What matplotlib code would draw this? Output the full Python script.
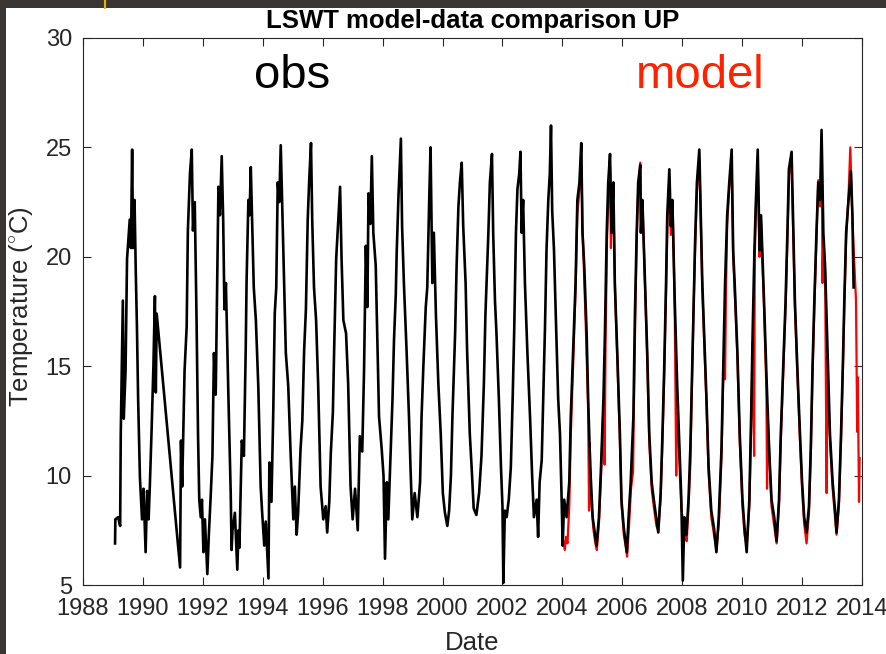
import matplotlib.pyplot as plt
from matplotlib.patches import Rectangle
from matplotlib.lines import Line2D

obs_date = [
    1989.07, 1989.08, 1989.17, 1989.24, 1989.26, 1989.33, 1989.36, 1989.42, 1989.47, 1989.56, 1989.60, 1989.64,
    1989.67, 1989.72, 1989.76, 1989.80, 1989.84, 1989.90, 1989.97,
    1990.02, 1990.09, 1990.14, 1990.19, 1990.23, 1990.29, 1990.35, 1990.40, 1990.43, 1990.46,
    1991.24, 1991.27, 1991.31, 1991.39, 1991.46, 1991.50, 1991.57, 1991.63, 1991.67, 1991.73, 1991.79, 1991.84,
    1991.88, 1991.93, 1991.97,
    1992.02, 1992.07, 1992.15, 1992.20, 1992.26, 1992.32, 1992.37, 1992.43, 1992.48, 1992.52, 1992.57, 1992.63,
    1992.68, 1992.72, 1992.77, 1992.85, 1992.93, 1992.96, 1992.99,
    1993.07, 1993.15, 1993.19, 1993.22, 1993.30, 1993.37, 1993.43, 1993.46, 1993.52, 1993.56, 1993.60, 1993.65,
    1993.70, 1993.77, 1993.85, 1993.93, 1993.98,
    1994.05, 1994.10, 1994.19, 1994.22, 1994.29, 1994.35, 1994.40, 1994.45, 1994.50, 1994.55, 1994.60, 1994.66,
    1994.71, 1994.77, 1994.85, 1994.93,
    1995.02, 1995.07, 1995.13, 1995.18, 1995.26, 1995.32, 1995.38, 1995.44, 1995.50, 1995.55, 1995.61, 1995.65,
    1995.71, 1995.78, 1995.85, 1995.93,
    1996.02, 1996.10, 1996.15, 1996.22, 1996.27, 1996.34, 1996.38, 1996.45, 1996.52, 1996.58, 1996.63, 1996.69,
    1996.78, 1996.85, 1996.93,
    1997.00, 1997.08, 1997.17, 1997.24, 1997.32, 1997.38, 1997.44, 1997.49, 1997.53, 1997.59, 1997.64, 1997.69,
    1997.77, 1997.82, 1997.88, 1997.97,
    1998.03, 1998.08, 1998.14, 1998.19, 1998.25, 1998.33, 1998.38, 1998.44, 1998.47, 1998.53, 1998.61, 1998.65,
    1998.71, 1998.80, 1998.88, 1998.93, 1998.99,
    1999.07, 1999.16, 1999.25, 1999.30, 1999.36, 1999.44, 1999.49, 1999.56, 1999.60, 1999.66, 1999.71, 1999.78,
    1999.86, 1999.94,
    2000.01, 2000.08, 2000.16, 2000.22, 2000.28, 2000.33, 2000.42, 2000.47, 2000.53, 2000.58, 2000.64, 2000.69,
    2000.77, 2000.82, 2000.91, 2000.97,
    2001.04, 2001.13, 2001.22, 2001.30, 2001.38, 2001.43, 2001.53, 2001.58, 2001.65, 2001.69, 2001.75, 2001.80,
    2001.88, 2001.95,
    2002.00, 2002.03, 2002.08, 2002.14, 2002.21, 2002.28, 2002.34, 2002.39, 2002.45, 2002.50, 2002.56, 2002.60,
    2002.64, 2002.69, 2002.75, 2002.83, 2002.92, 2002.99,
    2003.05, 2003.14, 2003.19, 2003.24, 2003.31, 2003.36, 2003.42, 2003.47, 2003.53, 2003.58, 2003.62, 2003.66,
    2003.72, 2003.78, 2003.86, 2003.92, 2003.97,
    2004.01, 2004.06, 2004.14, 2004.23, 2004.28, 2004.36, 2004.44, 2004.50, 2004.57, 2004.63, 2004.67, 2004.73,
    2004.81, 2004.86, 2004.93,
    2005.01, 2005.09, 2005.14, 2005.22, 2005.29, 2005.37, 2005.42, 2005.48, 2005.53, 2005.59, 2005.64, 2005.70,
    2005.75, 2005.83, 2005.92, 2005.97,
    2006.05, 2006.15, 2006.21, 2006.28, 2006.37, 2006.42, 2006.48, 2006.53, 2006.60, 2006.62, 2006.67, 2006.76,
    2006.83, 2006.90, 2006.98,
    2007.05, 2007.14, 2007.20, 2007.28, 2007.34, 2007.40, 2007.46, 2007.50, 2007.57, 2007.62, 2007.67, 2007.75,
    2007.83, 2007.91, 2007.97,
    2008.02, 2008.07, 2008.14, 2008.21, 2008.27, 2008.32, 2008.38, 2008.43, 2008.49, 2008.57, 2008.62, 2008.67,
    2008.73, 2008.81, 2008.88, 2008.97,
    2009.06, 2009.14, 2009.22, 2009.31, 2009.37, 2009.43, 2009.50, 2009.57, 2009.65, 2009.70, 2009.75, 2009.84,
    2009.92,
    2010.01, 2010.08, 2010.15, 2010.24, 2010.30, 2010.35, 2010.41, 2010.46, 2010.52, 2010.58, 2010.63, 2010.73,
    2010.82, 2010.90, 2010.98,
    2011.07, 2011.15, 2011.23, 2011.29, 2011.37, 2011.45, 2011.51, 2011.56, 2011.65, 2011.71, 2011.76, 2011.84,
    2011.93,
    2012.00, 2012.07, 2012.15, 2012.23, 2012.29, 2012.35, 2012.41, 2012.48, 2012.54, 2012.60, 2012.65, 2012.71,
    2012.77, 2012.85, 2012.93,
    2013.02, 2013.10, 2013.15, 2013.23, 2013.30, 2013.36, 2013.41, 2013.47, 2013.55, 2013.63, 2013.68, 2013.72,
]
obs_temp = [
    6.9, 8.0, 8.1, 7.7, 11.9, 18.0, 12.6, 14.8, 19.9, 21.7, 20.4, 24.9,
    20.4, 22.6, 19.4, 16.8, 13.5, 9.9, 8.0,
    9.4, 6.5, 9.3, 8.0, 9.5, 12.1, 15.0, 18.2, 13.8, 17.4,
    5.8, 11.6, 9.5, 14.8, 16.8, 21.2, 23.8, 24.9, 21.2, 22.5, 17.1, 11.8,
    8.9, 8.1, 8.9,
    6.5, 8.0, 5.5, 7.3, 9.0, 10.9, 15.6, 13.7, 18.9, 23.2, 21.9, 24.6,
    21.6, 17.6, 18.8, 13.8, 9.2, 6.6, 7.5,
    8.3, 5.7, 7.5, 6.7, 11.6, 10.9, 15.7, 18.9, 22.6, 21.9, 24.1, 21.3,
    18.6, 17.1, 14.1, 9.5, 8.3,
    6.8, 7.9, 5.3, 10.6, 8.8, 12.9, 17.4, 18.6, 23.4, 22.5, 25.1, 21.7,
    18.9, 15.6, 14.1, 11.0,
    8.0, 9.5, 7.3, 8.3, 11.2, 12.5, 15.7, 17.6, 21.7, 23.5, 25.2, 21.7,
    18.6, 17.1, 14.1, 9.5,
    8.0, 8.6, 7.4, 8.8, 11.0, 12.9, 15.6, 19.9, 21.7, 23.2, 19.9, 17.1,
    16.5, 14.2, 9.5,
    8.0, 9.4, 7.5, 11.8, 11.1, 14.8, 20.5, 17.7, 22.9, 21.5, 24.6, 21.1,
    19.6, 16.5, 12.7, 11.2,
    10.0, 6.2, 9.7, 8.0, 10.4, 13.5, 16.2, 18.3, 20.2, 22.8, 25.4, 21.4,
    18.8, 15.7, 12.7, 10.4, 8.0,
    9.2, 8.1, 9.7, 12.7, 15.0, 17.7, 18.6, 22.9, 25.0, 18.8, 21.1, 17.3,
    14.2, 11.9,
    9.2, 8.3, 7.7, 8.4, 10.0, 12.7, 16.5, 19.6, 22.3, 23.4, 24.3, 21.4,
    18.8, 15.7, 11.9, 10.4,
    8.5, 8.2, 9.2, 10.9, 14.2, 17.3, 21.1, 23.4, 24.7, 21.1, 18.0, 16.5,
    13.5, 10.4,
    8.6, 5.1, 8.4, 8.1, 8.9, 10.4, 13.5, 16.5, 21.1, 23.1, 23.8, 24.8,
    21.1, 22.6, 18.8, 15.7, 12.7, 10.0,
    8.1, 8.9, 7.2, 9.7, 10.7, 13.5, 16.8, 20.3, 22.6, 23.8, 26.0, 22.1,
    20.3, 17.3, 13.5, 11.9, 9.2,
    6.8, 8.9, 8.1, 9.7, 12.7, 15.7, 18.8, 22.6, 23.4, 25.2, 21.1, 19.6,
    16.5, 13.5, 10.4,
    8.1, 7.3, 6.8, 8.1, 10.4, 13.5, 16.5, 21.1, 23.4, 24.7, 21.1, 23.4,
    18.8, 15.7, 11.9, 8.9,
    7.6, 6.5, 8.1, 9.7, 12.7, 17.3, 21.1, 23.4, 24.2, 21.1, 22.6, 18.8,
    15.7, 11.9, 9.7,
    8.9, 8.0, 7.4, 9.2, 11.9, 15.0, 18.8, 21.9, 24.0, 21.4, 22.6, 18.0,
    14.2, 11.2, 8.9,
    5.2, 8.1, 7.3, 8.9, 11.2, 14.2, 18.0, 20.7, 23.4, 24.9, 21.9, 18.8,
    16.5, 13.5, 10.4, 8.4,
    7.6, 6.5, 8.1, 11.2, 15.0, 18.8, 21.9, 23.4, 24.9, 20.3, 18.8, 15.7,
    11.9,
    8.9, 7.6, 6.5, 8.9, 12.7, 16.5, 20.3, 22.6, 24.9, 20.3, 21.9, 18.0,
    14.2, 11.2, 8.9,
    8.1, 7.0, 8.9, 11.9, 15.0, 18.0, 21.1, 24.0, 24.8, 21.1, 18.0, 15.0,
    11.9,
    9.7, 8.1, 7.4, 8.6, 11.2, 15.0, 18.0, 21.1, 23.4, 22.6, 25.8, 21.1,
    19.5, 15.7, 11.9,
    9.7, 8.4, 7.4, 8.9, 11.9, 15.0, 18.0, 21.1, 22.6, 23.9, 21.9, 18.6,
]

# model run, 2004 onwards
model_date = [
    2004.03, 2004.08, 2004.12, 2004.17, 2004.23, 2004.28, 2004.36, 2004.44, 2004.50, 2004.57, 2004.63, 2004.67,
    2004.73, 2004.80, 2004.86, 2004.89, 2004.91, 2004.96,
    2005.03, 2005.10, 2005.15, 2005.22, 2005.29, 2005.37, 2005.41, 2005.44, 2005.49, 2005.54, 2005.59, 2005.62,
    2005.66, 2005.71, 2005.76, 2005.84, 2005.92, 2005.98,
    2006.05, 2006.12, 2006.16, 2006.22, 2006.29, 2006.36, 2006.38, 2006.43, 2006.48, 2006.53, 2006.60, 2006.63,
    2006.68, 2006.76, 2006.83, 2006.90, 2006.98,
    2007.05, 2007.14, 2007.20, 2007.28, 2007.34, 2007.40, 2007.46, 2007.51, 2007.57, 2007.62, 2007.68, 2007.75,
    2007.80, 2007.82, 2007.90, 2007.97,
    2008.04, 2008.10, 2008.15, 2008.21, 2008.27, 2008.32, 2008.38, 2008.43, 2008.49, 2008.57, 2008.62, 2008.67,
    2008.73, 2008.81, 2008.88, 2008.97,
    2009.06, 2009.14, 2009.22, 2009.31, 2009.37, 2009.43, 2009.46, 2009.50, 2009.57, 2009.65, 2009.70, 2009.75,
    2009.84, 2009.92,
    2010.01, 2010.08, 2010.15, 2010.24, 2010.30, 2010.35, 2010.40, 2010.42, 2010.46, 2010.52, 2010.58, 2010.63,
    2010.73, 2010.81, 2010.83, 2010.86, 2010.91, 2010.98,
    2011.07, 2011.15, 2011.23, 2011.29, 2011.37, 2011.45, 2011.51, 2011.57, 2011.65, 2011.71, 2011.76, 2011.84,
    2011.93,
    2012.00, 2012.07, 2012.15, 2012.23, 2012.29, 2012.35, 2012.41, 2012.48, 2012.54, 2012.60, 2012.66, 2012.68,
    2012.71, 2012.77, 2012.82, 2012.84, 2012.93,
    2013.02, 2013.10, 2013.15, 2013.23, 2013.30, 2013.36, 2013.41, 2013.47, 2013.55, 2013.61, 2013.66, 2013.72,
    2013.80, 2013.84, 2013.86, 2013.90, 2013.92,
]
model_temp = [
    7.0, 6.6, 7.2, 6.9, 8.6, 11.8, 15.2, 18.5, 22.0, 23.0, 24.8, 21.5,
    19.0, 16.0, 13.0, 8.4, 11.5, 9.0,
    7.6, 6.9, 6.6, 7.8, 10.0, 13.2, 10.5, 16.0, 20.8, 23.0, 24.1, 20.4,
    22.8, 22.0, 18.3, 15.0, 11.5, 8.6,
    7.3, 6.7, 6.3, 7.6, 9.4, 10.2, 12.5, 17.0, 20.8, 23.0, 24.3, 21.5,
    22.2, 18.5, 15.4, 11.5, 9.4,
    8.6, 7.7, 7.5, 9.0, 11.5, 14.6, 18.5, 21.6, 23.6, 21.0, 22.4, 17.6,
    10.0, 14.0, 10.8, 8.5,
    7.8, 7.2, 7.0, 8.6, 10.5, 13.9, 17.7, 20.4, 23.0, 24.5, 21.6, 18.5,
    16.2, 13.2, 10.1, 8.1,
    7.3, 6.6, 7.8, 10.8, 14.6, 14.4, 18.4, 21.5, 23.1, 24.4, 20.0, 18.5,
    15.4, 11.5,
    8.6, 7.3, 6.8, 8.6, 12.3, 16.1, 10.9, 19.9, 22.3, 24.5, 20.0, 21.6,
    17.7, 13.9, 9.4, 12.5, 10.9, 8.6,
    7.7, 6.9, 8.6, 11.6, 14.7, 17.7, 20.8, 23.8, 24.2, 20.8, 17.7, 14.7,
    11.6,
    9.4, 7.8, 6.9, 8.3, 10.9, 14.7, 17.7, 20.8, 23.5, 22.3, 25.4, 18.8,
    20.8, 19.2, 9.2, 15.4, 11.6,
    9.4, 8.1, 7.3, 8.6, 11.6, 14.7, 17.7, 20.8, 22.8, 25.0, 22.5, 20.4,
    18.0, 12.0, 14.5, 8.8, 10.8,
]

plt.rcParams['font.family'] = ['Liberation Sans', 'DejaVu Sans']
plt.rcParams['mathtext.fontset'] = 'custom'
plt.rcParams['mathtext.rm'] = 'Liberation Sans'

fig = plt.figure(figsize=(8.86, 6.54), dpi=100)
fig.patch.set_facecolor('#3a3634')
# white page inside the dark screenshot border
fig.add_artist(Rectangle((6 / 886, 0), 1, 1 - 8 / 654, transform=fig.transFigure,
                         facecolor='white', edgecolor='none', zorder=-1))
fig.add_artist(Line2D([105 / 886, 105 / 886], [1, 1 - 8 / 654], transform=fig.transFigure,
                      color='#e8b400', lw=1.5))

ax = fig.add_axes([83 / 886, 1 - 585 / 654, 779 / 886, 547 / 654])
ax.plot(model_date, model_temp, color='#ff0000', lw=1.6)
ax.plot(obs_date, obs_temp, color='black', lw=1.9)

ax.text(1993.71, 27.71, 'obs', fontsize=34, color='black')
ax.text(2006.46, 27.71, 'model', fontsize=34, color='#ff2200')

ax.set_xlim(1988, 2014)
ax.set_ylim(5, 30)
ax.set_xticks(range(1988, 2015, 2))
ax.set_yticks([5, 10, 15, 20, 25, 30])
ax.tick_params(direction='in', top=True, right=True, length=6, width=0.8,
               labelsize=17, colors='#262626', pad=8)
ax.tick_params(axis='x', pad=9.5)
for s in ax.spines.values():
    s.set_color('#262626')
    s.set_linewidth(0.8)

ax.set_title('LSWT model-data comparison UP', fontsize=18.5, fontweight='bold', pad=7)
ax.set_xlabel('Date', fontsize=18.5, color='#262626')
ax.set_ylabel('Temperature ($^{\\circ}$C)', fontsize=18.5, color='#262626')
ax.xaxis.set_label_coords(0.5, -0.085)
ax.yaxis.set_label_coords(-0.061, 0.508)

fig.savefig('out.png', dpi=100, facecolor=fig.get_facecolor())
